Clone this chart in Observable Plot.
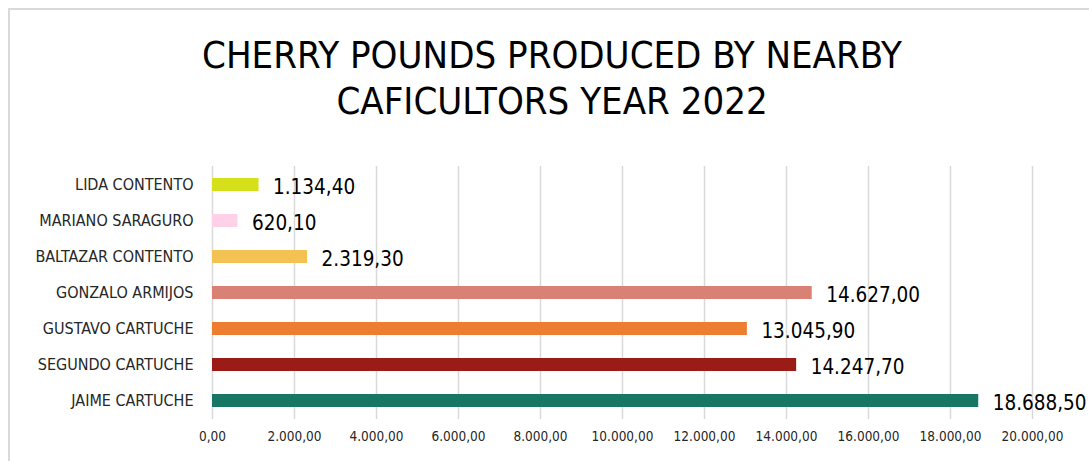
<!DOCTYPE html>
<html>
<head>
<meta charset="utf-8">
<script src="https://cdn.jsdelivr.net/npm/d3@7"></script>
<script src="https://cdn.jsdelivr.net/npm/@observablehq/plot@0.6"></script>
<style>
  html, body { margin: 0; padding: 0; background: #fff; }
  body { width: 1089px; height: 461px; overflow: hidden; position: relative;
         font-family: "Liberation Sans Narrow", "DejaVu Sans Condensed", "Open Sans", sans-serif; }
  #frame { position: absolute; left: 8px; top: 8px; right: -4px; bottom: -4px;
           border-left: 2px solid #d9d9d9; border-top: 2px solid #d9d9d9; }
  #title { position: absolute; left: 0; top: 32px; width: 1104px; text-align: center;
           font-size: 38px; line-height: 46px; color: #000; }
  #chart { position: absolute; left: 0; top: 150px; }
</style>
</head>
<body>
<div id="frame"></div>
<div id="title">CHERRY POUNDS PRODUCED BY NEARBY<br>CAFICULTORS YEAR 2022</div>
<div id="chart"></div>
<script>
const producers = ["LIDA CONTENTO", "MARIANO SARAGURO", "BALTAZAR CONTENTO", "GONZALO ARMIJOS", "GUSTAVO CARTUCHE", "SEGUNDO CARTUCHE", "JAIME CARTUCHE"];
const pounds = [1134.40, 620.10, 2319.30, 14627.00, 13045.90, 14247.70, 18688.50];
const barColors = ["#d6e01a", "#ffd1e8", "#f4c252", "#d88174", "#ed7d31", "#9b1b17", "#177763"];
const xTicks = [0, 2000, 4000, 6000, 8000, 10000, 12000, 14000, 16000, 18000, 20000];

const locale = d3.formatLocale({decimal: ",", thousands: ".", grouping: [3], currency: ["", ""]});
const fmt = locale.format(",.2f");

const data = producers.map((p, i) => ({producer: p, value: pounds[i], color: barColors[i]}));

const chart = Plot.plot({
  width: 1089,
  height: 311,
  marginTop: 16,
  marginBottom: 42,
  marginLeft: 212,
  marginRight: 57,
  style: {fontFamily: "'Liberation Sans Narrow', 'DejaVu Sans Condensed', sans-serif", color: "#262626", background: "transparent"},
  x: {domain: [0, 20000], ticks: xTicks, tickFormat: fmt, label: null},
  y: {domain: producers, paddingInner: 0.64, paddingOuter: 0.32, label: null},
  marks: [
    Plot.gridX(xTicks, {stroke: "#d9d9d9", strokeWidth: 1.5, strokeOpacity: 1}),
    Plot.axisX({ticks: xTicks, tickFormat: fmt, tickSize: 0, tickPadding: 12, fontSize: 13.5, label: null}),
    Plot.axisY({tickSize: 0, tickPadding: 19, fontSize: 16, label: null}),
    Plot.barX(data, {x: "value", y: "producer", fill: "color"}),
    Plot.text(data, {x: "value", y: "producer", text: d => fmt(d.value), textAnchor: "start", dx: 14, dy: 2, fontSize: 20.5, fill: "#000"})
  ]
});
document.getElementById("chart").appendChild(chart);
</script>
</body>
</html>
